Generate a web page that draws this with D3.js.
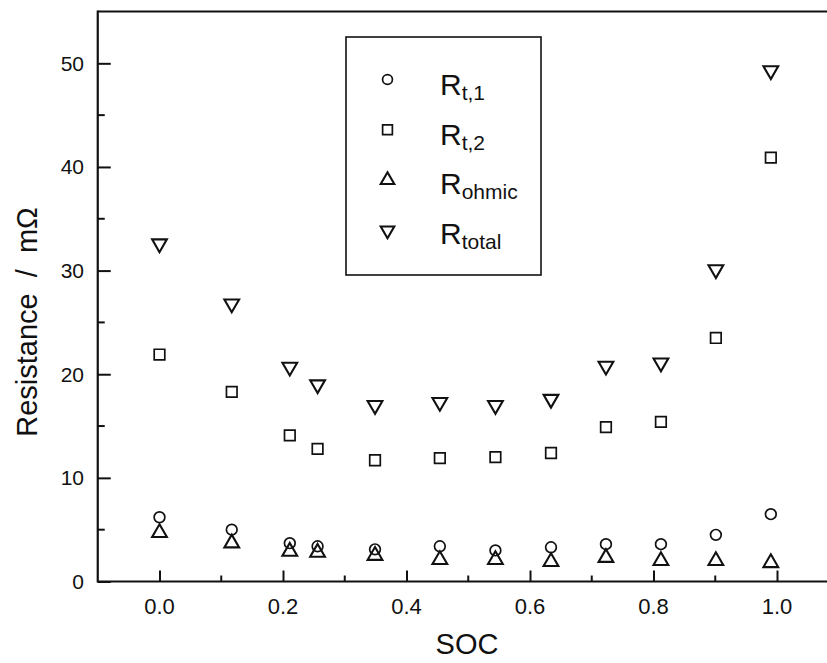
<!DOCTYPE html>
<html lang="en">
<head>
    <meta charset="UTF-8">
    <title>Resistance vs SOC</title>
    <script src="https://d3js.org/d3.v7.min.js"></script>
    <style>
        body { margin: 0; background: #fff; }
        svg { display: block; font-family: "Liberation Sans", Arial, sans-serif; }
    </style>
</head>

<body>
<svg width="827" height="663"></svg>

<script>

    // values
    const soc      = [0.0, 0.117, 0.211, 0.256, 0.349, 0.454, 0.544, 0.634, 0.723, 0.812, 0.901, 0.99];
    const r_t1     = [6.2, 5.0, 3.7, 3.4, 3.1, 3.4, 3.0, 3.3, 3.6, 3.6, 4.5, 6.5];
    const r_t2     = [21.9, 18.3, 14.1, 12.8, 11.7, 11.9, 12.0, 12.4, 14.9, 15.4, 23.5, 40.9];
    const r_ohmic  = [4.7, 3.7, 2.9, 2.8, 2.5, 2.1, 2.1, 1.9, 2.3, 2.0, 2.0, 1.8];
    const r_total  = [32.6, 26.8, 20.7, 19.0, 17.0, 17.3, 17.0, 17.6, 20.8, 21.1, 30.1, 49.3];

    const xTicks = [0, 0.2, 0.4, 0.6, 0.8, 1.0];
    const xMinor = [0.1, 0.3, 0.5, 0.7, 0.9];
    const yTicks = [0, 10, 20, 30, 40, 50];
    const yMinor = [5, 15, 25, 35, 45];

    const seriesNames = ["t,1", "t,2", "ohmic", "total"];
    const seriesData = [r_t1, r_t2, r_ohmic, r_total];

    let svg = d3.select("svg");

    let x = d3.scaleLinear().domain([-0.1, 1.1]).range([97.75, 838.75]);
    let y = d3.scaleLinear().domain([0, 55]).range([581.5, 11.5]);

    const shapes = [
        {type: d3.symbolCircle, size: 90, rot: 0},
        {type: d3.symbolSquare, size: 112, rot: 0},
        {type: d3.symbolTriangle, size: 94, rot: 0},
        {type: d3.symbolTriangle, size: 94, rot: 180}
    ];

    // frame
    svg.append("line")
        .attr("x1", x(-0.1)).attr("x2", 827)
        .attr("y1", y(55)).attr("y2", y(55))
        .attr("stroke", "#111").attr("stroke-width", 2);

    // x axis (ticks inward)
    let xAxis = svg.append("g")
        .attr("transform", "translate(0," + y(0) + ")")
        .call(d3.axisTop(x).tickValues(xTicks).tickSize(11));
    xAxis.select(".domain").remove();
    xAxis.selectAll("text").remove();
    xAxis.selectAll("line").attr("stroke", "#111").attr("stroke-width", 2);

    svg.append("g").selectAll("line")
        .data(xMinor).enter().append("line")
        .attr("x1", d => x(d)).attr("x2", d => x(d))
        .attr("y1", y(0)).attr("y2", y(0) - 6)
        .attr("stroke", "#111").attr("stroke-width", 2);

    svg.append("line")
        .attr("x1", x(-0.1)).attr("x2", 827)
        .attr("y1", y(0)).attr("y2", y(0))
        .attr("stroke", "#111").attr("stroke-width", 2.2);

    svg.append("g").selectAll("text")
        .data(xTicks).enter().append("text")
        .attr("x", d => x(d)).attr("y", 614)
        .attr("text-anchor", "middle")
        .attr("font-size", 22)
        .attr("fill", "#111")
        .text(d => d3.format(".1f")(d));

    // y axis
    let yAxis = svg.append("g")
        .attr("transform", "translate(" + x(-0.1) + ",0)")
        .call(d3.axisRight(y).tickValues(yTicks).tickSize(13));
    yAxis.select(".domain").remove();
    yAxis.selectAll("text").remove();
    yAxis.selectAll("line").attr("stroke", "#111").attr("stroke-width", 2);

    svg.append("g").selectAll("line")
        .data(yMinor).enter().append("line")
        .attr("x1", x(-0.1)).attr("x2", x(-0.1) + 7)
        .attr("y1", d => y(d)).attr("y2", d => y(d))
        .attr("stroke", "#111").attr("stroke-width", 2);

    svg.append("line")
        .attr("x1", x(-0.1)).attr("x2", x(-0.1))
        .attr("y1", y(55) - 1).attr("y2", y(0) + 1)
        .attr("stroke", "#111").attr("stroke-width", 2.2);

    svg.append("g").selectAll("text")
        .data(yTicks).enter().append("text")
        .attr("x", 84).attr("y", d => y(d) + 7.5)
        .attr("text-anchor", "end")
        .attr("font-size", 21)
        .attr("fill", "#111")
        .text(d => d);

    // axis titles
    svg.append("text")
        .attr("x", 467).attr("y", 654)
        .attr("text-anchor", "middle")
        .attr("font-size", 29)
        .attr("fill", "#111")
        .text("SOC");

    svg.append("text")
        .attr("transform", "translate(37," + 322 + ") rotate(-90)")
        .attr("text-anchor", "middle")
        .attr("font-size", 29)
        .attr("fill", "#111")
        .style("white-space", "pre")
        .text("Resistance  /  m\u03A9");

    // data points
    seriesData.forEach(function (vals, i) {
        let sym = d3.symbol().type(shapes[i].type).size(shapes[i].size);
        svg.append("g").selectAll("path")
            .data(vals).enter().append("path")
            .attr("d", sym)
            .attr("transform", (d, j) => "translate(" + x(soc[j]) + "," + y(d) + ") rotate(" + shapes[i].rot + ")")
            .attr("fill", "none")
            .attr("stroke", "#111")
            .attr("stroke-width", i < 2 ? 1.7 : 2.1);
    });

    // legend
    let legend = svg.append("g");
    legend.append("rect")
        .attr("x", 346).attr("y", 37)
        .attr("width", 195).attr("height", 238)
        .attr("fill", "none").attr("stroke", "#111").attr("stroke-width", 1.6);

    seriesNames.forEach(function (name, i) {
        let sym = d3.symbol().type(shapes[i].type).size(shapes[i].size * 0.85);
        legend.append("path")
            .attr("d", sym)
            .attr("transform", "translate(387.5," + (79.5 + i * 50.3) + ") rotate(" + shapes[i].rot + ")")
            .attr("fill", "none").attr("stroke", "#111")
            .attr("stroke-width", i < 2 ? 1.7 : 2.1);
        let t = legend.append("text")
            .attr("x", 440).attr("y", 95 + i * 49.5)
            .attr("font-size", 30)
            .attr("fill", "#111");
        t.append("tspan").text("R");
        t.append("tspan").attr("dy", 5).attr("font-size", 21).text(name);
    });

</script>
</body>
</html>
